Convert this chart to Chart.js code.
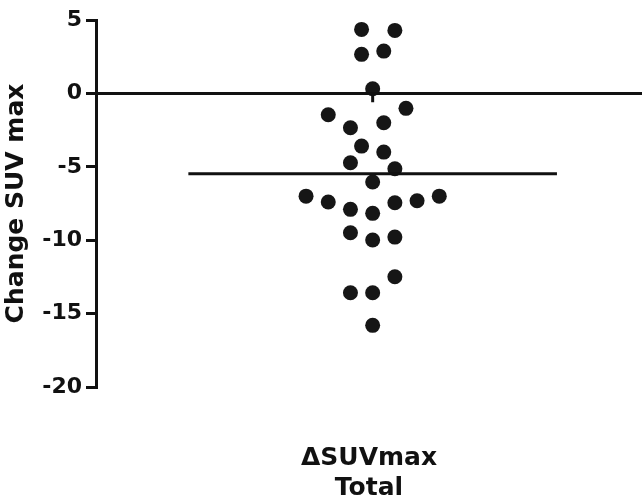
<!DOCTYPE html>
<html lang="en">
<head>
  <meta charset="UTF-8" />
  <title>Change SUV max</title>
  <script src="https://cdn.jsdelivr.net/npm/chart.js"></script>
  <style>
    body { margin: 0; background: #fff; }
    canvas { display: block; }
  </style>
</head>
<body>
  <canvas id="graphSUV" width="642" height="503"></canvas>
  <script>
    // column offset of each dot (scatter spread) and its value
    const colOffset = [-0.5, 1, -0.5, 0.5, 0, -2, 1.5, -1, 0.5, -0.5, 0.5, -1, 1,
                       0, -3, -2, -1, 0, 1, 2, 3, -1, 0, 1, 1, -1, 0, 0];
    const changeSUV = [4.36, 4.29, 2.66, 2.88, 0.32, -1.45, -1.02, -2.34, -2.0, -3.59, -4.0, -4.72, -5.13,
                       -6.04, -7.0, -7.4, -7.9, -8.17, -7.45, -7.31, -7.0, -9.49, -9.99, -9.79, -12.49, -13.58, -13.58, -15.8];
    const meanValue = -5.47;
    const meanSpan = [-8.3, 8.3];
    const yTicks = [5, 0, -5, -10, -15, -20];
    const xRange = [-12.46, 12.13];
    const xTitle = ['\u0394SUVmax', 'Total'];
    const yTitle = 'Change SUV max';

    const points = changeSUV.map((v, i) => ({ x: colOffset[i], y: v }));
    const police = { family: 'DejaVu Sans', weight: 'bold' };

    new Chart(document.getElementById('graphSUV'), {
      type: 'scatter',
      data: {
        datasets: [
          {
            label: 'zero',
            type: 'line',
            data: [{ x: xRange[0], y: 0 }, { x: xRange[1], y: 0 }],
            borderColor: '#111',
            borderWidth: 3,
            pointRadius: 0
          },
          {
            label: 'barre',
            type: 'line',
            data: [{ x: 0, y: 0 }, { x: 0, y: -0.6 }],
            borderColor: '#111',
            borderWidth: 3,
            pointRadius: 0
          },
          {
            label: 'moyenne',
            type: 'line',
            data: [{ x: meanSpan[0], y: meanValue }, { x: meanSpan[1], y: meanValue }],
            borderColor: '#111',
            borderWidth: 3,
            pointRadius: 0
          },
          {
            label: 'patients',
            data: points,
            backgroundColor: '#161616',
            borderColor: '#161616',
            borderWidth: 0,
            pointRadius: 7.5
          }
        ]
      },
      options: {
        responsive: false,
        animation: false,
        layout: { autoPadding: false, padding: { top: 20, right: 0, bottom: 0, left: 0 } },
        plugins: { legend: { display: false }, tooltip: { enabled: false } },
        scales: {
          x: {
            type: 'linear',
            min: xRange[0],
            max: xRange[1],
            border: { display: false },
            grid: { display: false, drawTicks: false },
            ticks: { display: false },
            title: {
              display: true,
              text: xTitle,
              color: '#111',
              font: { ...police, size: 25, lineHeight: 1.2 },
              padding: { top: 56, bottom: 0 }
            }
          },
          y: {
            min: -20,
            max: 5,
            afterFit: scale => { scale.width = 96; },
            afterBuildTicks: scale => { scale.ticks = yTicks.map(v => ({ value: v })); },
            border: { display: true, color: '#111', width: 3 },
            grid: { drawOnChartArea: false, drawTicks: true, tickLength: 10, color: '#111', lineWidth: 3 },
            ticks: { color: '#111', font: { ...police, size: 22 }, padding: 4 },
            title: {
              display: true,
              text: yTitle,
              color: '#111',
              font: { ...police, size: 25, lineHeight: 1.2 },
              padding: { top: 1, bottom: 0 }
            }
          }
        }
      }
    });
  </script>
</body>
</html>
